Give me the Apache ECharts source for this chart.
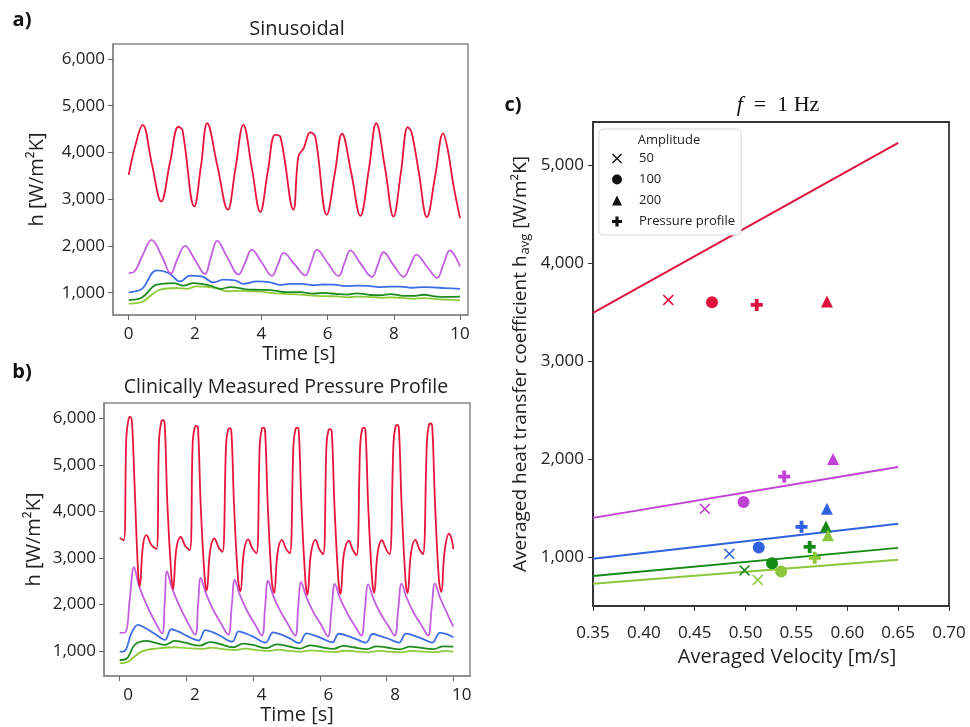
<!DOCTYPE html>
<html><head><meta charset="utf-8">
<script src="https://cdn.jsdelivr.net/npm/echarts@6/dist/echarts.min.js"></script>
<style>html,body{margin:0;padding:0;background:#fff}#chart{width:970px;height:727px}</style>
</head><body><div id="chart"></div><script>
// ---------- Panel a: Sinusoidal ----------
const tA_red = [0.00,0.20,0.42,0.70,0.98,1.25,1.50,1.62,1.98,2.18,2.37,2.68,2.99,3.22,3.46,3.72,3.97,4.20,4.42,4.58,4.97,5.12,5.28,5.48,5.63,5.98,6.22,6.44,6.72,6.99,7.25,7.47,7.74,7.99,8.22,8.42,8.53,8.75,9.00,9.25,9.49,9.63,9.80,10.0];
const hA_red = [3520,4150,4590,3750,2950,3800,4550,4480,2845,3700,4625,3700,2775,3650,4590,3650,2725,3600,4375,4330,2775,3910,4090,4430,4340,2667,3550,4400,3550,2645,3650,4625,3650,2630,3600,4540,4450,3600,2617,3500,4410,4055,3300,2596];
const tA_mag = [0.00,0.15,0.42,0.69,1.00,1.27,1.47,1.70,2.00,2.30,2.48,2.67,2.98,3.31,3.52,3.71,4.02,4.32,4.50,4.68,5.00,5.33,5.51,5.68,6.00,6.33,6.51,6.69,7.00,7.34,7.52,7.69,8.00,8.30,8.49,8.68,9.00,9.31,9.50,9.69,10.0];
const hA_mag = [1420,1440,1800,2130,1780,1410,1720,2000,1700,1400,1760,2110,1750,1390,1650,1920,1640,1360,1600,1850,1610,1370,1650,1920,1640,1355,1630,1905,1620,1335,1600,1865,1580,1340,1570,1815,1560,1315,1610,1905,1560];
const tA_blue = [0.00,0.15,0.40,0.85,1.20,1.55,1.85,2.20,2.56,2.86,3.21,3.46,3.87,4.27,4.57,4.87,5.20,5.55,5.88,6.20,6.55,6.89,7.20,7.55,7.90,8.20,8.55,8.90,9.20,9.55,10.0];
const hA_blue = [1005,1020,1080,1475,1420,1240,1365,1350,1220,1280,1265,1190,1240,1220,1165,1190,1190,1160,1175,1170,1140,1150,1145,1120,1130,1130,1105,1120,1115,1095,1080];
const tA_dgreen = [0.00,0.15,0.40,0.85,1.35,1.65,1.95,2.46,2.76,3.06,3.66,4.00,4.40,4.75,5.18,5.55,5.88,6.30,6.60,6.89,7.30,7.60,7.90,8.30,8.60,8.90,9.30,9.60,10.0];
const hA_dgreen = [840,850,895,1170,1205,1150,1205,1150,1080,1120,1065,1060,1045,1010,1010,980,995,970,960,985,950,945,970,930,930,955,915,910,915];
const tA_lgreen = [0.00,0.15,0.40,0.95,1.45,1.75,2.05,2.66,2.96,3.30,3.66,4.00,4.27,4.70,5.18,5.55,5.88,6.30,6.60,6.89,7.30,7.60,7.90,8.30,8.60,8.90,9.30,9.60,10.0];
const hA_lgreen = [765,770,800,1065,1100,1080,1135,1100,1030,1040,1030,1020,995,975,960,935,925,920,900,915,905,890,900,885,870,885,860,850,835];

// ---------- Panel b: Clinically measured pressure profile ----------
const tB_red = [0.00,0.12,0.20,0.27,0.32,0.37,0.45,0.55,0.60,0.70,0.80,0.95,1.10,
  1.18,1.25,1.30,1.35,1.43,1.55,1.60,1.70,1.83,1.97,2.10,
  2.19,2.25,2.30,2.35,2.43,2.55,2.61,2.71,2.84,2.97,3.08,
  3.19,3.25,3.30,3.35,3.43,3.55,3.62,3.72,3.85,3.98,4.10,
  4.20,4.26,4.31,4.36,4.44,4.56,4.63,4.73,4.86,4.99,5.10,
  5.21,5.27,5.32,5.37,5.45,5.57,5.63,5.73,5.87,5.99,6.10,
  6.20,6.26,6.31,6.36,6.44,6.56,6.62,6.72,6.87,6.99,7.10,
  7.21,7.27,7.32,7.37,7.45,7.57,7.63,7.73,7.86,7.99,8.09,
  8.21,8.27,8.32,8.37,8.45,8.57,8.63,8.73,8.86,8.99,9.09,
  9.21,9.27,9.32,9.37,9.45,9.57,9.64,9.74,9.87,9.95,10.0];
const hB_red = [3430,3380,5600,6000,6030,5900,4500,2710,2390,3280,3490,3280,3190,
  5550,5940,5960,5880,4150,2600,2330,3200,3450,3250,3170,
  5500,5810,5840,5760,4100,2550,2300,3150,3420,3220,3130,
  5450,5760,5790,5700,4100,2530,2280,3120,3400,3200,3100,
  5450,5770,5800,5710,4100,2500,2250,3100,3390,3190,3100,
  5450,5770,5800,5710,4100,2480,2210,3080,3390,3180,3080,
  5450,5750,5770,5680,4080,2480,2230,3080,3370,3170,3060,
  5450,5780,5800,5710,4100,2500,2250,3100,3380,3180,3080,
  5500,5830,5860,5770,4150,2500,2240,3100,3390,3180,3080,
  5520,5870,5890,5800,4200,2520,2270,3150,3520,3400,3190];
const tB_mag = [0.00,0.17,0.30,0.43,0.58,0.80,1.05,1.27,1.35,1.42,1.57,1.79,2.02,2.26,2.35,2.43,2.58,2.80,3.03,3.25,3.36,3.45,3.60,3.82,4.05,4.26,4.36,4.45,4.60,4.82,5.05,5.26,5.35,5.44,5.59,5.81,6.04,6.24,6.35,6.45,6.60,6.82,7.05,7.24,7.35,7.45,7.60,7.82,8.05,8.24,8.35,8.45,8.60,8.82,9.05,9.24,9.35,9.45,9.60,9.82,10.0];
const hB_mag = [1390,1400,2100,2800,2400,2000,1640,1380,2050,2710,2350,1970,1640,1350,2000,2570,2250,1890,1600,1350,1980,2530,2210,1860,1580,1330,1960,2510,2190,1850,1570,1330,1940,2480,2170,1830,1560,1310,1900,2440,2140,1810,1540,1330,1900,2430,2130,1800,1540,1330,1910,2450,2150,1810,1550,1330,1910,2450,2150,1800,1524];
const tB_blue = [0.00,0.15,0.35,0.55,0.75,0.95,1.15,1.35,1.55,1.75,2.00,2.20,2.37,2.57,2.80,3.05,3.37,3.57,3.80,4.05,4.37,4.60,4.85,5.10,5.38,5.60,5.85,6.10,6.37,6.57,6.82,7.10,7.38,7.58,7.82,8.10,8.37,8.58,8.82,9.10,9.37,9.60,9.80,10.0];
const hB_blue = [985,1000,1380,1560,1500,1415,1320,1237,1467,1420,1330,1260,1225,1450,1400,1310,1200,1420,1370,1290,1180,1400,1350,1270,1170,1380,1330,1260,1185,1370,1325,1250,1180,1365,1320,1250,1180,1375,1330,1255,1180,1390,1360,1295];
const tB_dgreen = [0.00,0.20,0.45,0.80,1.05,1.35,1.65,1.95,2.40,2.70,3.00,3.40,3.70,4.00,4.40,4.70,5.00,5.40,5.70,6.00,6.40,6.70,7.00,7.40,7.70,8.00,8.40,8.70,9.00,9.40,9.70,10.0];
const hB_dgreen = [806,830,1130,1215,1180,1130,1215,1180,1115,1190,1150,1080,1160,1130,1060,1140,1110,1050,1120,1090,1045,1110,1080,1040,1100,1075,1035,1095,1070,1040,1100,1095];
const tB_lgreen = [0.00,0.25,0.65,1.15,1.65,2.00,2.45,2.75,3.10,3.45,3.75,4.10,4.45,4.75,5.10,5.45,5.75,6.10,6.45,6.75,7.10,7.45,7.75,8.10,8.45,8.75,9.10,9.45,9.75,10.0];
const hB_lgreen = [735,770,985,1058,1080,1060,1045,1070,1040,1020,1050,1020,1000,1030,1000,985,1015,990,975,1005,985,970,1000,985,970,1000,985,975,1000,980];

// ---------- Panel c: f = 1 Hz (order: red, magenta, blue, dark green, light green) ----------
const vel50 = [0.424,0.460,0.484,0.499,0.512];
const h50   = [3622,1490,1031,862,765];
const vel100 = [0.467,0.498,0.513,0.526,0.535];
const h100   = [3599,1560,1097,935,850];
const vel200 = [0.580,0.586,0.580,0.579,0.581];
const h200   = [3605,2000,1490,1309,1220];
const velPP = [0.511,0.538,0.555,0.563,0.568];
const hPP   = [3571,1819,1307,1102,990];
const fitVel = [0.35,0.65];
const fitRed = [3490,5225];
const fitMag = [1398,1918];
const fitBlue = [980,1337];
const fitDgreen = [806,1092];
const fitLgreen = [725,972];
const timeTicks = [0,2,4,6,8,10];
const hTicks = [1000,2000,3000,4000,5000,6000];
const cTicks = [1000,2000,3000,4000,5000];

// ---------- styling ----------
const FONT = "'Open Sans','Noto Sans',sans-serif";
const TXT = '#222';
const lineCols = ['#e8143c','#c25fe0','#3d6ee8','#1f8c1f','#8fcb3a'];
const markCols = ['#e0103c','#bf42d4','#3062e0','#148a14','#8cc63a'];
const fmt = v => Number(v).toLocaleString('en-US');
const pairs = (t, h) => t.map((x, i) => [x, h[i]]);

function timeAxis(gi, min, max, nameGap, namePadL, labelPadL, margin) {
  return {
    type:'value', gridIndex:gi, min:min, max:max,
    name:'Time [s]', nameLocation:'middle', nameGap:nameGap,
    nameTextStyle:{fontSize:20, color:TXT, fontFamily:FONT, padding:[0,0,0,namePadL]},
    axisLine:{show:true, onZero:false, lineStyle:{color:'#888', width:1.5}},
    axisTick:{show:true, length:5, customValues:timeTicks, lineStyle:{color:'#666'}},
    axisLabel:{customValues:timeTicks, fontSize:17, color:TXT, fontFamily:FONT, margin:margin, padding:[0,0,0,labelPadL]},
    splitLine:{show:false}
  };
}
function hAxis(gi, min, max, nameGap) {
  return {
    type:'value', gridIndex:gi, min:min, max:max,
    name:'h [W/m²K]', nameLocation:'middle', nameGap:nameGap,
    nameTextStyle:{fontSize:20, color:TXT, fontFamily:FONT},
    axisLine:{show:true, onZero:false, lineStyle:{color:'#888', width:1.5}},
    axisTick:{show:true, length:5, customValues:hTicks, lineStyle:{color:'#666'}},
    axisLabel:{customValues:hTicks, formatter:fmt, fontSize:17, color:TXT, fontFamily:FONT, margin:8},
    splitLine:{show:false}
  };
}
function lineSeries(xi, t, h, col) {
  return {type:'line', xAxisIndex:xi, yAxisIndex:xi, data:pairs(t,h), symbol:'none', smooth:0.4,
    lineStyle:{color:col, width:1.8}, itemStyle:{color:col}, silent:true, animation:false};
}
const crossPath = 'path://M0,1 L1,0 L5,4 L9,0 L10,1 L6,5 L10,9 L9,10 L5,6 L1,10 L0,9 L4,5 Z';
const plusPath = 'path://M3.4,0 L6.6,0 L6.6,3.4 L10,3.4 L10,6.6 L6.6,6.6 L6.6,10 L3.4,10 L3.4,6.6 L0,6.6 L0,3.4 L3.4,3.4 Z';
function scatterSeries(name, vel, h, symbol, size) {
  return {type:'scatter', name:name, xAxisIndex:2, yAxisIndex:2, symbol:symbol, symbolSize:size,
    itemStyle:{color:'#111', opacity:1},
    data:vel.map((v,i)=>({value:[v,h[i]], itemStyle:{color:markCols[i]}})), animation:false, z:5};
}
function fitSeries(vals, col) {
  return {type:'line', xAxisIndex:2, yAxisIndex:2, data:pairs(fitVel, vals), symbol:'none',
    lineStyle:{color:col, width:2}, silent:true, animation:false};
}

const option = {
  backgroundColor:'#fff',
  animation:false,
  grid:[
    {left:113, top:44, width:355, height:271, show:true, borderColor:'#888', borderWidth:1.5},
    {left:104, top:403, width:366, height:273, show:true, borderColor:'#888', borderWidth:1.5},
    {left:593, top:122, width:356, height:484, show:true, borderColor:'#333', borderWidth:1.8}
  ],
  xAxis:[
    timeAxis(0, -0.474, 10.24, 26, 17, 0, 11),
    timeAxis(1, -0.47, 10.5, 27, 20, 17, 11),
    {type:'value', gridIndex:2, min:0.35, max:0.70, interval:0.05,
     name:'Averaged Velocity [m/s]', nameLocation:'middle', nameGap:40,
     nameTextStyle:{fontSize:20, color:TXT, fontFamily:FONT, padding:[0,0,0,32]},
     axisLine:{show:true, onZero:false, lineStyle:{color:'#333', width:1.8}},
     axisTick:{show:true, length:5, lineStyle:{color:'#333'}},
     axisLabel:{formatter:v=>Number(v).toFixed(2), fontSize:17, color:TXT, fontFamily:FONT, margin:19},
     splitLine:{show:false}}
  ],
  yAxis:[
    hAxis(0, 522, 6321, 66),
    hAxis(1, 462, 6331, 60),
    {type:'value', gridIndex:2, min:499, max:5437,
     name:'Averaged heat transfer coefficient h{s|avg} [W/m²K]', nameLocation:'middle', nameGap:61,
     nameTextStyle:{fontSize:19, color:TXT, fontFamily:FONT,
       rich:{s:{fontSize:13, color:TXT, fontFamily:FONT, padding:[9,0,0,1]}}},
     axisLine:{show:true, onZero:false, lineStyle:{color:'#333', width:1.8}},
     axisTick:{show:true, length:5, customValues:cTicks, lineStyle:{color:'#333'}},
     axisLabel:{customValues:cTicks, formatter:fmt, fontSize:17, color:TXT, fontFamily:FONT, margin:9},
     splitLine:{show:false}}
  ],
  legend:{
    show:true, data:['50','100','200','Pressure profile'], orient:'vertical',
    left:599, top:129, itemWidth:10, itemHeight:10, itemGap:8,
    padding:[23,6,7,13], backgroundColor:'#fff', borderColor:'#d8d8d8', borderWidth:1, borderRadius:4,
    textStyle:{fontSize:13, color:TXT, fontFamily:FONT, padding:[0,0,0,12]},
    selectedMode:false
  },
  graphic:[
    {type:'text', x:22, y:20, style:{text:'a)', fontSize:20, fontWeight:'bold', fontFamily:FONT, fill:'#111', align:'center', verticalAlign:'middle'}},
    {type:'text', x:22, y:372, style:{text:'b)', fontSize:20, fontWeight:'bold', fontFamily:FONT, fill:'#111', align:'center', verticalAlign:'middle'}},
    {type:'text', x:513, y:105, style:{text:'c)', fontSize:20, fontWeight:'bold', fontFamily:FONT, fill:'#111', align:'center', verticalAlign:'middle'}},
    {type:'text', x:297, y:29, style:{text:'Sinusoidal', fontSize:20, fontFamily:FONT, fill:TXT, align:'center', verticalAlign:'middle'}},
    {type:'text', x:286, y:387, style:{text:'Clinically Measured Pressure Profile', fontSize:19.5, fontFamily:FONT, fill:TXT, align:'center', verticalAlign:'middle'}},
    {type:'text', x:778, y:105, style:{text:'{i|f}\u2002=\u20021 Hz', fontSize:22, fontFamily:"'Liberation Serif','DejaVu Serif',serif", fill:'#111', align:'center', verticalAlign:'middle',
      rich:{i:{fontStyle:'italic', fontSize:22, fontFamily:"'Liberation Serif','DejaVu Serif',serif", fill:'#111'}}}},
    {type:'text', x:669, y:140, z:100, style:{text:'Amplitude', fontSize:13, fontFamily:FONT, fill:TXT, align:'center', verticalAlign:'middle'}}
  ],
  series:[
    lineSeries(0, tA_lgreen, hA_lgreen, lineCols[4]),
    lineSeries(0, tA_dgreen, hA_dgreen, lineCols[3]),
    lineSeries(0, tA_blue, hA_blue, lineCols[2]),
    lineSeries(0, tA_mag, hA_mag, lineCols[1]),
    lineSeries(0, tA_red, hA_red, lineCols[0]),
    lineSeries(1, tB_lgreen, hB_lgreen, lineCols[4]),
    lineSeries(1, tB_dgreen, hB_dgreen, lineCols[3]),
    lineSeries(1, tB_blue, hB_blue, lineCols[2]),
    lineSeries(1, tB_mag, hB_mag, lineCols[1]),
    lineSeries(1, tB_red, hB_red, lineCols[0]),
    fitSeries(fitLgreen, markCols[4]),
    fitSeries(fitDgreen, markCols[3]),
    fitSeries(fitBlue, markCols[2]),
    fitSeries(fitMag, markCols[1]),
    fitSeries(fitRed, markCols[0]),
    scatterSeries('50', vel50, h50, crossPath, 11),
    scatterSeries('100', vel100, h100, 'circle', 12),
    scatterSeries('200', vel200, h200, 'triangle', 12),
    scatterSeries('Pressure profile', velPP, hPP, plusPath, 12)
  ]
};
const chart = echarts.init(document.getElementById('chart'), null, {renderer:'canvas'});
chart.setOption(option);
</script></body></html>
